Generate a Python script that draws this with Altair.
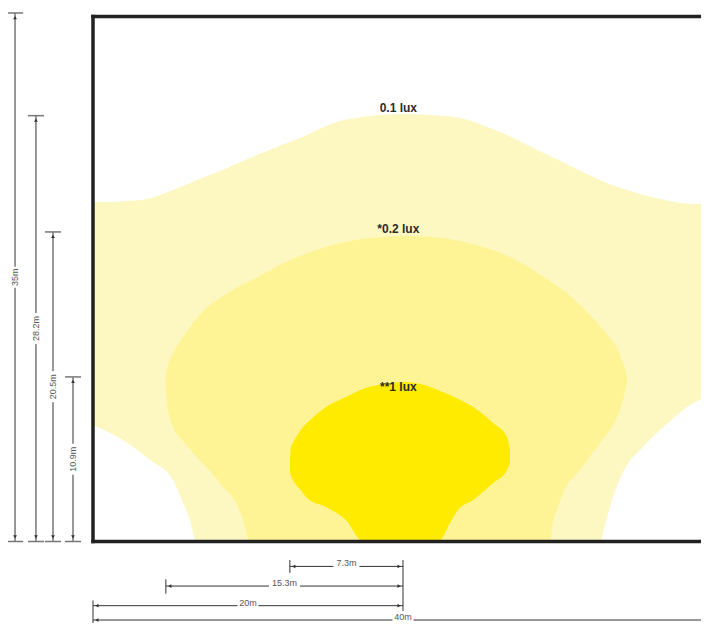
import altair as alt
import pandas as pd

# ---------------- data (metres) ----------------
# 0.1 lux zone: x, upper edge, lower edge
outer_x = [0, 1.10, 2.13, 3.68, 5.16, 5.81, 6.26, 6.65, 8.52, 10.13, 13.35, 15.94, 17.87, 20.0,
           21.74, 23.68, 26.26, 29.48, 32.71, 33.03, 33.55, 34.45, 35.29, 36.58, 37.55, 38.32, 39.16, 40.0]
outer_top = [22.48, 22.48, 22.55, 22.72, 23.28, 23.54, 23.74, 23.91, 24.67, 25.40, 26.72, 27.85, 28.18, 28.31,
             28.25, 28.05, 27.12, 25.53, 23.94, 23.79, 23.58, 23.28, 23.01, 22.68, 22.48, 22.38, 22.35, 22.35]
outer_bot = [7.72, 7.19, 6.59, 5.40, 4.07, 2.55, 1.42, 0, 0, 0, 0, 0, 0, 0,
             0, 0, 0, 0, 0, 1.09, 2.95, 5.07, 6.06, 7.38, 8.25, 8.91, 9.37, 9.70]

# 0.2 lux zone
mid_x = [4.68, 4.71, 4.84, 5.16, 5.81, 6.45, 7.55, 8.39, 9.23, 9.68,
         10.13, 11.81, 13.35, 15.03, 16.90, 18.71, 20.0, 21.94, 23.68, 25.16, 26.90, 28.39, 29.48,
         29.68, 29.94, 30.32, 31.42, 32.71, 33.35, 33.81, 34.19, 34.39, 34.45]
mid_top = [10.75, 11.03, 11.69, 12.48, 13.54, 14.47, 15.66, 16.26, 16.79, 17.05,
           17.25, 18.18, 18.91, 19.50, 19.97, 20.17, 20.23, 20.17, 19.90, 19.50, 18.84, 17.98, 17.25,
           17.12, 16.92, 16.66, 15.66, 14.27, 13.48, 12.81, 11.82, 11.23, 10.84]
mid_bot = [10.45, 10.03, 8.71, 7.58, 6.66, 5.86, 4.67, 3.61, 2.55, 1.42,
           0, 0, 0, 0, 0, 0, 0, 0, 0, 0, 0, 0, 0,
           1.29, 2.09, 3.21, 4.74, 6.52, 7.38, 8.25, 9.37, 10.23, 10.57]

# 1 lux zone
in_x = [12.71, 12.77, 12.90, 13.55, 13.74, 15.03, 16.32, 17.42, 18.71, 20.0,
        21.94, 22.39, 23.03, 23.55, 24.52, 25.81, 26.71, 26.90]
in_top = [5.26, 6.26, 6.52, 7.58, 7.78, 8.91, 9.57, 10.10, 10.43, 10.56,
          10.17, 9.97, 9.70, 9.44, 8.91, 7.85, 6.92, 6.06]
in_bot = [4.60, 4.34, 4.07, 3.21, 2.95, 2.28, 1.42, 0, 0, 0,
          0, 0.1, 1.23, 2.09, 2.75, 3.87, 4.74, 5.20]

lux_labels = ["0.1 lux", "*0.2 lux", "**1 lux"]

vdim_labels = ["35m", "28.2m", "20.5m", "10.9m"]
vdim_values = [35, 28.2, 20.5, 10.9]

hdim_labels = ["7.3m", "15.3m", "20m", "40m"]
hdim_values = [7.3, 15.3, 20, 40]

box_height = 34.77
box_width = 40
centre = 20

# ---------------- layout ----------------
PX_X = 15.5
PX_Y = 15.1
XS = alt.Scale(domain=[-5.484, 39.226], nice=False, zero=False)
YS = alt.Scale(domain=[-5.397, 35.33], nice=False, zero=False)
FONT = "Liberation Sans"

VDIM_X = [-5.03, -3.68, -2.58, -1.29]
HDIM_Y = [-1.65, -2.95, -4.25, -5.2]
LUX_Y = [28.71, 20.70, 10.23]
LUX_X = 19.7


def X(f="x"):
    return alt.X(f"{f}:Q", scale=XS, axis=None)


def Y(f="y"):
    return alt.Y(f"{f}:Q", scale=YS, axis=None)


def region(xs, top, bot, color):
    df = pd.DataFrame({"x": xs, "top": top, "bot": bot})
    return alt.Chart(df).mark_area(color=color, interpolate="monotone", opacity=1).encode(
        x=X(), y=Y("top"), y2="bot:Q")


layers = [
    region(outer_x, outer_top, outer_bot, "#FDF7C2"),
    region(mid_x, mid_top, mid_bot, "#FEF395"),
    region(in_x, in_top, in_bot, "#FFEB00"),
]

# frame
frame_h = pd.DataFrame({"x": [0, 0], "x2": [box_width + 1, box_width + 1], "y": [0, box_height]})
frame_v = pd.DataFrame({"x": [0], "y": [0], "y2": [box_height]})
layers.append(alt.Chart(frame_h).mark_rule(color="#222222", strokeWidth=3.5, strokeCap="square").encode(
    x=X(), x2="x2:Q", y=Y()))
layers.append(alt.Chart(frame_v).mark_rule(color="#222222", strokeWidth=3.5, strokeCap="square").encode(
    x=X(), y=Y(), y2="y2:Q"))

# lux labels
lux_df = pd.DataFrame({"x": [LUX_X] * 3, "y": LUX_Y, "t": lux_labels})
layers.append(alt.Chart(lux_df).mark_text(font=FONT, fontSize=12, fontWeight="bold", color="#2b2b2b").encode(
    x=X(), y=Y(), text="t:N"))

# vertical dimensions
vseg, vtick, varrow, vtext = [], [], [], []
for lab, v, xp in zip(vdim_labels, vdim_values, VDIM_X):
    g = (5 * len(lab) + 6) / 2 / PX_Y
    vseg.append({"x": xp, "y": 0, "y2": v / 2 - g})
    vseg.append({"x": xp, "y": v / 2 + g, "y2": v})
    vtick.append({"x": xp - 0.52, "x2": xp + 0.52, "y": 0})
    vtick.append({"x": xp - 0.52, "x2": xp + 0.52, "y": v})
    varrow.append({"x": xp, "y": v - 0.3, "s": "triangle-up"})
    varrow.append({"x": xp, "y": 0.3, "s": "triangle-down"})
    vtext.append({"x": xp, "y": v / 2, "t": lab})

layers.append(alt.Chart(pd.DataFrame(vseg)).mark_rule(color="#333333", strokeWidth=1).encode(
    x=X(), y=Y(), y2="y2:Q"))
layers.append(alt.Chart(pd.DataFrame(vtick)).mark_rule(color="#777777", strokeWidth=1.5).encode(
    x=X(), x2="x2:Q", y=Y()))
layers.append(alt.Chart(pd.DataFrame(varrow)).mark_point(filled=True, color="#333333", size=14, opacity=1).encode(
    x=X(), y=Y(), shape=alt.Shape("s:N", scale=None, legend=None)))
layers.append(alt.Chart(pd.DataFrame(vtext)).mark_text(font=FONT, fontSize=9, color="#555555", angle=270).encode(
    x=X(), y=Y(), text="t:N"))

# horizontal dimensions
hseg, harrow, htext = [], [], []
for lab, v, yp in zip(hdim_labels, hdim_values, HDIM_Y):
    start = centre - v if v < box_width else 0
    end = centre if v < box_width else box_width
    mid = (start + end) / 2
    g = (5 * len(lab) + 6) / 2 / PX_X
    hseg.append({"x": start, "x2": mid - g, "y": yp})
    hseg.append({"x": mid + g, "x2": end, "y": yp})
    harrow.append({"x": start + 0.25, "y": yp, "s": "triangle-left"})
    harrow.append({"x": end - 0.25, "y": yp, "s": "triangle-right"})
    htext.append({"x": mid, "y": yp, "t": lab})

htick = pd.DataFrame({
    "x": [centre, 0, centre - hdim_values[0], centre - hdim_values[1]],
    "y": [HDIM_Y[0] + 0.43, HDIM_Y[2] + 0.35, HDIM_Y[0] + 0.43, HDIM_Y[1] + 0.45],
    "y2": [HDIM_Y[2] - 0.35, HDIM_Y[3] - 0.6, HDIM_Y[0] - 0.43, HDIM_Y[1] - 0.5],
})

layers.append(alt.Chart(pd.DataFrame(hseg)).mark_rule(color="#333333", strokeWidth=1).encode(
    x=X(), x2="x2:Q", y=Y()))
layers.append(alt.Chart(htick).mark_rule(color="#333333", strokeWidth=1).encode(
    x=X(), y=Y(), y2="y2:Q"))
layers.append(alt.Chart(pd.DataFrame(harrow)).mark_point(filled=True, color="#333333", size=14, opacity=1).encode(
    x=X(), y=Y(), shape=alt.Shape("s:N", scale=None, legend=None)))
layers.append(alt.Chart(pd.DataFrame(htext)).mark_text(font=FONT, fontSize=9, color="#555555", dy=-3).encode(
    x=X(), y=Y(), text="t:N"))

chart = alt.layer(*layers).properties(
    width=693, height=615,
    autosize=alt.AutoSizeParams(type="none"),
    padding=0,
    background="white",
).configure_view(stroke=None)

chart.save("out.html", embed_options={"renderer": "svg", "actions": False})
